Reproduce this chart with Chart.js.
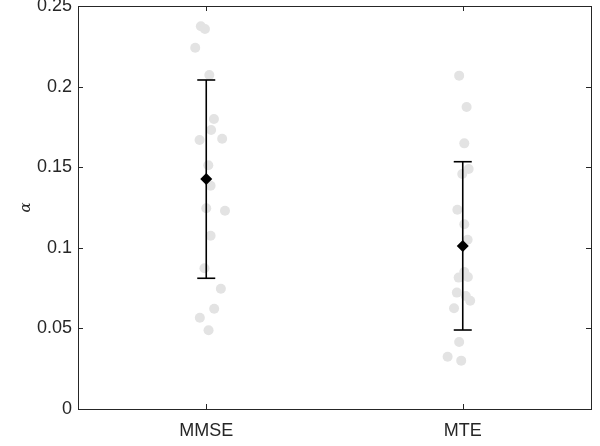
<!DOCTYPE html>
<html>
<head>
<meta charset="utf-8">
<script src="https://cdn.jsdelivr.net/npm/chart.js@4"></script>
<style>
  html, body { margin: 0; padding: 0; background: #fff; }
  #wrap { width: 600px; height: 446px; }
</style>
</head>
<body>
<div id="wrap"><canvas id="alphaChart" width="600" height="446"></canvas></div>
<script>
// categories on the x axis (placed at x = 1, 2)
const categories = ['MMSE', 'MTE'];
const yTicks = [0, 0.05, 0.1, 0.15, 0.2, 0.25];

// individual subjects (x is jittered around the category position)
const mmseX = [0.979, 0.995, 0.957, 1.012, 1.030, 1.019, 0.974, 1.062, 1.008,
               1.017, 1.000, 1.073, 1.017, 0.993, 1.057, 1.031, 0.975, 1.009];
const mmseY = [0.2374, 0.2357, 0.2241, 0.2072, 0.1799, 0.1731, 0.1669, 0.1677, 0.1512,
               0.1385, 0.1245, 0.1230, 0.1075, 0.0873, 0.0746, 0.0622, 0.0566, 0.0488];
const mteX = [1.986, 2.015, 2.006, 2.023, 1.998, 1.979, 2.006, 2.019, 2.006,
              1.984, 2.020, 1.977, 2.012, 2.029, 1.966, 1.986, 1.941, 1.994];
const mteY = [0.2068, 0.1873, 0.1648, 0.1489, 0.1458, 0.1236, 0.1146, 0.1050, 0.0850,
              0.0815, 0.0819, 0.0722, 0.0701, 0.0672, 0.0625, 0.0416, 0.0324, 0.0300];

// mean and error bar ends
const means = [0.1427, 0.1011];
const upper = [0.2041, 0.1534];
const lower = [0.0811, 0.0490];

const FONT = 'Liberation Sans, Arial, Helvetica, sans-serif';
const INK = '#262626';

function toPoints(xs, ys) {
    return xs.map((x, i) => ({ x: x, y: ys[i] }));
}

const datasets = [];

// mean diamonds on top
datasets.push({
    data: means.map((m, i) => ({ x: i + 1, y: m })),
    pointStyle: 'rectRot',
    pointRadius: 6,
    backgroundColor: '#000',
    borderColor: '#000',
    borderWidth: 0,
    showLine: false,
    order: 0
});

// one error bar per category (caps are 'line' point style)
categories.forEach((c, i) => {
    datasets.push({
        data: [{ x: i + 1, y: lower[i] }, { x: i + 1, y: upper[i] }],
        showLine: true,
        borderColor: '#000',
        borderWidth: 1.6,
        pointStyle: 'line',
        pointRadius: 9,
        pointBorderWidth: 1.6,
        pointBorderColor: '#000',
        order: 1
    });
});

// gray subject points
[toPoints(mmseX, mmseY), toPoints(mteX, mteY)].forEach(pts => {
    datasets.push({
        data: pts,
        pointStyle: 'circle',
        pointRadius: 5,
        backgroundColor: '#e3e3e3',
        borderWidth: 0,
        showLine: false,
        order: 2
    });
});

// frame with inward ticks, like the matlab box
const boxPlugin = {
    id: 'box',
    afterDraw(chart) {
        const ctx = chart.ctx;
        const a = chart.chartArea;
        const xs = chart.scales.x, ys = chart.scales.y;
        ctx.save();
        ctx.strokeStyle = INK;
        ctx.lineWidth = 1;
        ctx.strokeRect(Math.round(a.left) + 0.5, Math.round(a.top) + 0.5,
                       Math.round(a.right - a.left), Math.round(a.bottom - a.top));
        const len = 5;
        ctx.beginPath();
        categories.forEach((c, i) => {
            const px = Math.round(xs.getPixelForValue(i + 1)) + 0.5;
            ctx.moveTo(px, a.bottom); ctx.lineTo(px, a.bottom - len);
            ctx.moveTo(px, a.top); ctx.lineTo(px, a.top + len);
        });
        yTicks.forEach(v => {
            const py = Math.round(ys.getPixelForValue(v)) + 0.5;
            ctx.moveTo(a.left, py); ctx.lineTo(a.left + len, py);
            ctx.moveTo(a.right, py); ctx.lineTo(a.right - len, py);
        });
        ctx.stroke();
        ctx.restore();
    }
};

new Chart(document.getElementById('alphaChart'), {
    type: 'scatter',
    data: { datasets: datasets },
    options: {
        responsive: false,
        animation: false,
        events: [],
        layout: { autoPadding: false, padding: { left: 0, right: 9, top: 6, bottom: 0 } },
        plugins: {
            legend: { display: false },
            tooltip: { enabled: false }
        },
        scales: {
            x: {
                type: 'linear',
                min: 0.5,
                max: 2.5,
                grid: { display: false, drawTicks: false },
                border: { display: false },
                afterBuildTicks(scale) {
                    scale.ticks = categories.map((c, i) => ({ value: i + 1 }));
                },
                afterFit(scale) {
                    scale.height = 37;
                    scale.paddingLeft = 0;
                    scale.paddingRight = 0;
                },
                ticks: {
                    padding: 11,
                    color: INK,
                    font: { family: FONT, size: 18 },
                    callback: (v) => categories[v - 1] || ''
                }
            },
            y: {
                min: 0,
                max: 0.25,
                grid: { display: false, drawTicks: false },
                border: { display: false },
                afterBuildTicks(scale) {
                    scale.ticks = yTicks.map(v => ({ value: v }));
                },
                afterFit(scale) {
                    scale.width = 78;
                    scale.paddingTop = 0;
                    scale.paddingBottom = 0;
                },
                title: {
                    display: true,
                    text: 'α',
                    color: INK,
                    padding: { top: 17, bottom: 0 },
                    font: { family: 'DejaVu Serif', style: 'italic', size: 15 }
                },
                ticks: {
                    padding: 6,
                    color: INK,
                    font: { family: FONT, size: 18 },
                    callback: (v) => String(Math.round(v * 100) / 100)
                }
            }
        }
    },
    plugins: [boxPlugin]
});
</script>
</body>
</html>
